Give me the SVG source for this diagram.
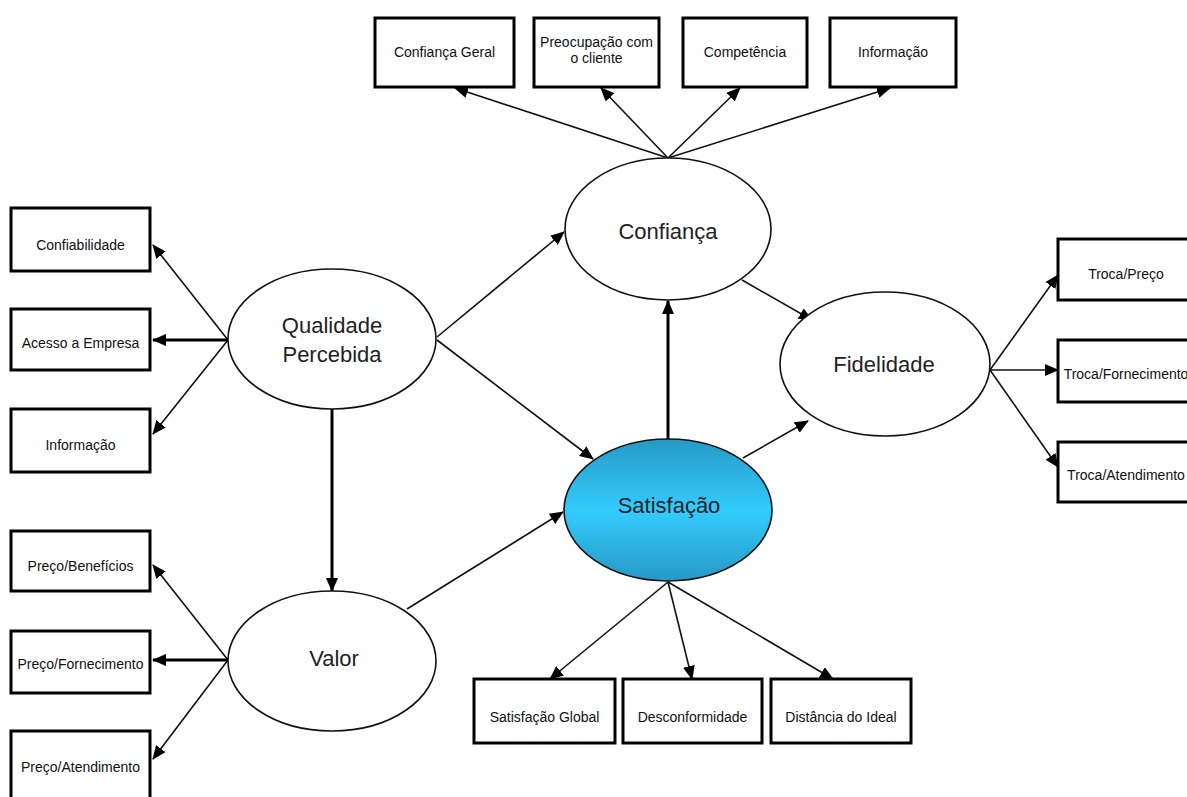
<svg xmlns="http://www.w3.org/2000/svg" width="1187" height="797" viewBox="0 0 1187 797">
<defs>
<style>
.box{fill:#fff;stroke:#000;stroke-width:3}
.ell{fill:#fff;stroke:#111;stroke-width:1.6}
.bt{font-family:"Liberation Sans",Arial,sans-serif;font-size:14px;fill:#111;text-anchor:middle}
.et{font-family:"Liberation Sans",Arial,sans-serif;font-size:22px;fill:#222;text-anchor:middle}
.thin{stroke:#111;stroke-width:1.6;fill:none;marker-end:url(#ah)}
.thick{stroke:#000;stroke-width:3;fill:none;marker-end:url(#ahk)}
</style>
<marker id="ah" markerUnits="userSpaceOnUse" markerWidth="14" markerHeight="12" viewBox="0 0 14 12" refX="13" refY="6" orient="auto">
<path d="M0,0 L14,6 L0,12 z" fill="#000"/>
</marker>
<marker id="ahk" markerUnits="userSpaceOnUse" markerWidth="14" markerHeight="12" viewBox="0 0 14 12" refX="13" refY="6" orient="auto">
<path d="M0,0 L14,6 L0,12 z" fill="#000"/>
</marker>
<linearGradient id="sat" x1="0" y1="0" x2="0" y2="1">
<stop offset="0" stop-color="#2699c4"/>
<stop offset="0.5" stop-color="#33ccff"/>
<stop offset="1" stop-color="#2699c4"/>
</linearGradient>
</defs>
<rect width="1187" height="797" fill="#fff"/>

<g id="connectors">
<line class="thin" x1="668" y1="158" x2="455" y2="88"/>
<line class="thin" x1="668" y1="158" x2="601" y2="88"/>
<line class="thin" x1="668" y1="158" x2="740" y2="88"/>
<line class="thin" x1="668" y1="158" x2="890" y2="88"/>
<line class="thin" x1="228" y1="340" x2="153" y2="245"/>
<line class="thick" x1="228" y1="340" x2="153" y2="340"/>
<line class="thin" x1="228" y1="340" x2="153" y2="434"/>
<line class="thin" x1="228" y1="660" x2="153" y2="565"/>
<line class="thick" x1="228" y1="660" x2="153" y2="660"/>
<line class="thin" x1="228" y1="660" x2="153" y2="759"/>
<line class="thick" x1="332" y1="409" x2="332" y2="591"/>
<line class="thin" x1="437" y1="337" x2="564" y2="232"/>
<line class="thin" x1="437" y1="340" x2="593" y2="459"/>
<line class="thin" x1="407" y1="609" x2="563" y2="512"/>
<line class="thick" x1="668" y1="440" x2="668" y2="301"/>
<line class="thin" x1="742" y1="280" x2="812" y2="320"/>
<line class="thin" x1="743" y1="458" x2="808" y2="421"/>
<line class="thin" x1="990" y1="370" x2="1058" y2="275"/>
<line class="thin" x1="990" y1="370" x2="1058" y2="370"/>
<line class="thin" x1="990" y1="370" x2="1058" y2="467"/>
<line class="thin" x1="668" y1="582" x2="550" y2="679"/>
<line class="thin" x1="668" y1="582" x2="692" y2="679"/>
<line class="thin" x1="668" y1="582" x2="833" y2="679"/>
</g>

<g id="confianca">
<ellipse class="ell" cx="668" cy="229" rx="103" ry="71"/>
<text class="et" x="668" y="239">Confiança</text>
</g>
<g id="qualidade">
<ellipse class="ell" cx="332" cy="339" rx="104" ry="70"/>
<text class="et" x="332" y="333">Qualidade</text>
<text class="et" x="332" y="362">Percebida</text>
</g>
<g id="valor">
<ellipse class="ell" cx="332" cy="661" rx="104" ry="70"/>
<text class="et" x="334" y="666">Valor</text>
</g>
<g id="satisfacao">
<ellipse cx="668" cy="510" rx="104" ry="71" fill="url(#sat)" stroke="#111" stroke-width="1.6"/>
<text class="et" x="669" y="513">Satisfação</text>
</g>
<g id="fidelidade">
<ellipse class="ell" cx="885" cy="364" rx="105" ry="72"/>
<text class="et" x="884" y="372">Fidelidade</text>
</g>

<g id="confianca-geral"><rect class="box" x="375" y="18" width="139" height="69"/><text class="bt" x="444.5" y="57">Confiança Geral</text></g>
<g id="preocupacao"><rect class="box" x="534" y="18" width="125" height="69"/><text class="bt" x="596.5" y="47">Preocupação com</text><text class="bt" x="596.5" y="63">o cliente</text></g>
<g id="competencia"><rect class="box" x="683" y="18" width="124" height="69"/><text class="bt" x="745" y="57">Competência</text></g>
<g id="informacao-top"><rect class="box" x="830" y="18" width="126" height="69"/><text class="bt" x="893" y="57">Informação</text></g>

<g id="confiabilidade"><rect class="box" x="11" y="208" width="139" height="63"/><text class="bt" x="80.5" y="250">Confiabilidade</text></g>
<g id="acesso"><rect class="box" x="11" y="309" width="139" height="61"/><text class="bt" x="80.5" y="348">Acesso a Empresa</text></g>
<g id="informacao-left"><rect class="box" x="11" y="409" width="139" height="63"/><text class="bt" x="80.5" y="450">Informação</text></g>

<g id="preco-beneficios"><rect class="box" x="11" y="531" width="139" height="60"/><text class="bt" x="80.5" y="571">Preço/Benefícios</text></g>
<g id="preco-fornecimento"><rect class="box" x="11" y="631" width="139" height="62"/><text class="bt" x="80.5" y="669">Preço/Fornecimento</text></g>
<g id="preco-atendimento"><rect class="box" x="11" y="731" width="139" height="70"/><text class="bt" x="80.5" y="772">Preço/Atendimento</text></g>

<g id="troca-preco"><rect class="box" x="1058" y="239" width="136" height="61"/><text class="bt" x="1126" y="279">Troca/Preço</text></g>
<g id="troca-fornecimento"><rect class="box" x="1058" y="340" width="136" height="62"/><text class="bt" x="1126" y="379">Troca/Fornecimento</text></g>
<g id="troca-atendimento"><rect class="box" x="1058" y="442" width="136" height="60"/><text class="bt" x="1126" y="480">Troca/Atendimento</text></g>

<g id="satisfacao-global"><rect class="box" x="474" y="679" width="141" height="64"/><text class="bt" x="544.5" y="722">Satisfação Global</text></g>
<g id="desconformidade"><rect class="box" x="623" y="679" width="139" height="64"/><text class="bt" x="692.5" y="722">Desconformidade</text></g>
<g id="distancia"><rect class="box" x="771" y="679" width="140" height="64"/><text class="bt" x="841" y="722">Distância do Ideal</text></g>
</svg>
